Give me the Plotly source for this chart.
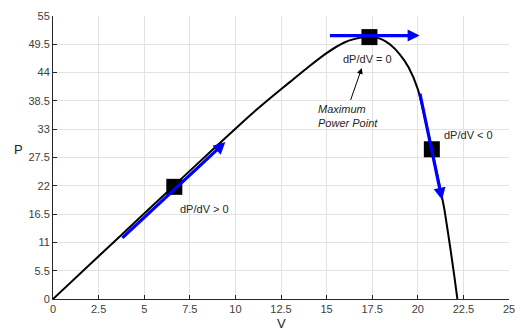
import plotly.graph_objects as go

# P-V curve
V = [0, 2.5, 5, 7.5, 10, 11, 12, 13, 14, 15, 16, 16.5, 17, 17.35, 17.7, 18, 18.5, 19, 19.5,
     20, 20.5, 20.77, 21, 21.4, 21.5, 21.77, 22, 22.17]
P = [0, 8.3, 16.6, 24.9, 33.1, 36.3, 39.3, 42.2, 45.1, 47.8, 49.9, 50.5, 50.85, 50.9, 50.8,
     50.5, 49.4, 47.6, 45.0, 40.8, 33.5, 29.1, 25.3, 18.5, 16.5, 10.2, 4.5, 0]

# operating points
point_V = [6.65, 17.35, 20.77]
point_P = [21.8, 50.9, 29.1]

# blue direction arrows: start -> tip
arrow_V0 = [3.72, 15.1, 20.1]
arrow_P0 = [11.6, 51.2, 40.2]
arrow_V1 = [9.45, 20.1, 21.33]
arrow_P1 = [30.5, 51.2, 19.3]

# labels
label_text = ["dP/dV > 0", "dP/dV = 0", "dP/dV < 0"]
label_V = [6.85, 17.26, 21.3]
label_P = [17.5, 46.7, 31.8]
label_anchor = ["left", "center", "left"]

mpp_text = "<i>Maximum<br>Power Point</i>"
mpp_V, mpp_P = 16.2, 35.6
mpp_tail_V, mpp_tail_P = 16.29, 38.4
mpp_tip_V, mpp_tip_P = 16.93, 44.9

x_ticks = [0, 2.5, 5, 7.5, 10, 12.5, 15, 17.5, 20, 22.5, 25]
x_tick_labels = ["0", "2.5", "5", "7.5", "10", "12.5", "15", "17.5", "20", "22.5", "25"]
y_ticks = [0, 5.5, 11, 16.5, 22, 27.5, 33, 38.5, 44, 49.5, 55]
y_tick_labels = ["0", "5.5", "11", "16.5", "22", "27.5", "33", "38.5", "44", "49.5", "55"]

FONT = "Liberation Sans, Arial"

fig = go.Figure()
fig.add_trace(go.Scatter(x=V, y=P, mode="lines", line=dict(color="black", width=2, shape="spline", smoothing=0.6),
                         showlegend=False, hoverinfo="skip"))

annotations = []
for x0, y0, x1, y1 in zip(arrow_V0, arrow_P0, arrow_V1, arrow_P1):
    annotations.append(dict(x=x1, y=y1, ax=x0, ay=y0, xref="x", yref="y", axref="x", ayref="y",
                            showarrow=True, arrowhead=2, arrowsize=0.75, arrowwidth=3.2,
                            arrowcolor="#0000ff", text=""))
for t, x, y, a in zip(label_text, label_V, label_P, label_anchor):
    annotations.append(dict(x=x, y=y, xref="x", yref="y", text=t, showarrow=False, xanchor=a,
                            yanchor="middle", font=dict(family=FONT, size=11, color="#262626")))
annotations.append(dict(x=mpp_V, y=mpp_P, xref="x", yref="y", text=mpp_text, showarrow=False,
                        xanchor="center", yanchor="middle", align="left",
                        font=dict(family=FONT, size=11, color="#262626")))
annotations.append(dict(x=mpp_tip_V, y=mpp_tip_P, ax=mpp_tail_V, ay=mpp_tail_P, xref="x", yref="y",
                        axref="x", ayref="y", showarrow=True, arrowhead=2, arrowsize=1.2, arrowwidth=1,
                        arrowcolor="black", text=""))
# axis titles
annotations.append(dict(x=-0.075, y=0.53, xref="paper", yref="paper", text="P", showarrow=False,
                        xanchor="center", yanchor="middle", font=dict(family=FONT, size=13, color="#262626")))
annotations.append(dict(x=0.5, y=0, xref="paper", yref="paper", yshift=-34, text="V", showarrow=False,
                        xanchor="center", yanchor="bottom", font=dict(family=FONT, size=13, color="#262626")))

fig.add_trace(go.Scatter(x=point_V, y=point_P, mode="markers",
                         marker=dict(symbol="square", size=16, color="black"),
                         showlegend=False, hoverinfo="skip"))

axis_common = dict(showgrid=True, gridcolor="#e2e2e2", gridwidth=1, zeroline=False,
                   showline=True, linecolor="#262626", linewidth=1, automargin=False,
                   ticks="inside", ticklen=4, tickcolor="#262626", ticklabeloverflow="allow",
                   tickfont=dict(family=FONT, size=11, color="#404040"))

fig.update_layout(
    width=515, height=333,
    margin=dict(l=53, r=6, t=16, b=34),
    paper_bgcolor="white", plot_bgcolor="white",
    annotations=annotations,
    xaxis=dict(range=[0, 25], tickvals=x_ticks, ticktext=x_tick_labels, **axis_common),
    yaxis=dict(range=[0, 55], tickvals=y_ticks, ticktext=y_tick_labels, **axis_common),
)

fig.write_html("out.html", config={"displayModeBar": False},
               post_script="document.body.style.margin='0px';document.body.style.overflow='hidden';")
